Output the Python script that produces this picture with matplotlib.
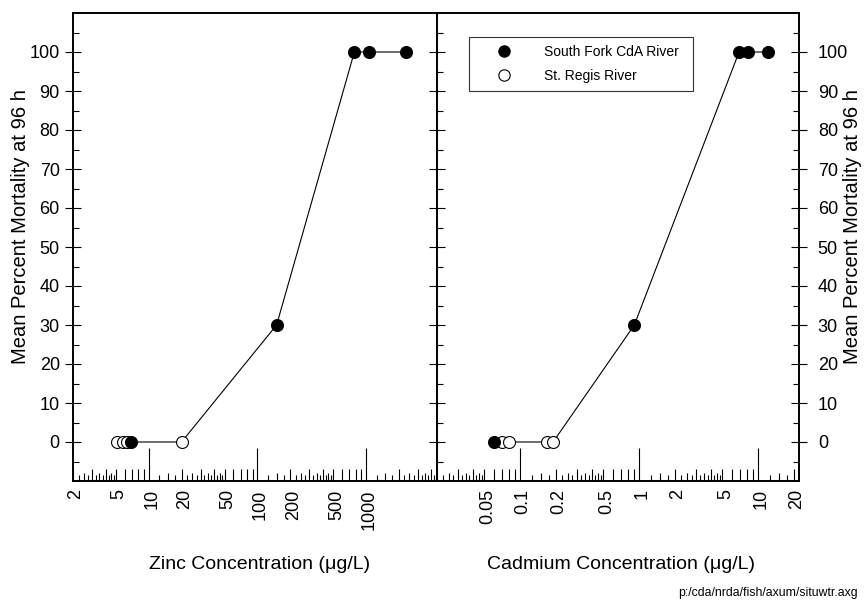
import matplotlib
matplotlib.use('Agg')
import matplotlib.pyplot as plt
from matplotlib.ticker import NullFormatter
from matplotlib.transforms import ScaledTranslation
import numpy as np

plt.rcParams['font.family'] = ['Liberation Sans', 'DejaVu Sans']

# zinc exposures (ug/L) and mortality
zn_sf = [6.8, 150, 780, 1070, 2350]
zn_sf_mort = [0, 30, 100, 100, 100]
zn_sr = [5.1, 5.8, 6.3, 20]
zn_sr_mort = [0, 0, 0, 0]

# cadmium exposures (ug/L) and mortality
cd_sf = [0.0605, 0.91, 6.9, 8.15, 12.0]
cd_sf_mort = [0, 30, 100, 100, 100]
cd_sr = [0.071, 0.081, 0.168, 0.189]
cd_sr_mort = [0, 0, 0, 0]

zn_ticks = [2, 5, 10, 20, 50, 100, 200, 500, 1000]
zn_ticklabels = ['2', '5', '10', '20', '50', '100', '200', '500', '1000']
cd_ticks = [0.05, 0.1, 0.2, 0.5, 1, 2, 5, 10, 20]
cd_ticklabels = ['0.05', '0.1', '0.2', '0.5', '1', '2', '5', '10', '20']

TICK_FS = 13
LABEL_FS = 14
YLABEL = 'Mean Percent Mortality at 96 h'


def log_ticks(lo_exp, hi_exp):
    # decade, integer, half and quarter steps (fine steps only up to 5x)
    decades = [10.0 ** e for e in range(lo_exp, hi_exp + 1)]
    mid, half, quarter = [], [], []
    for d in decades[:-1]:
        mid += [d * k for k in range(2, 10)]
        half += [d * (k + 0.5) for k in range(1, 5)]
        quarter += [d * (k + f) for k in range(1, 5) for f in (0.25, 0.75)]
    return decades, mid, half, quarter


def label_for(vals, ticks, labels):
    out = []
    for v in vals:
        lab = ''
        for t, l in zip(ticks, labels):
            if abs(v - t) / t < 1e-6:
                lab = l
        out.append(lab)
    return out


def panel(ax, sf_x, sf_y, sr_x, sr_y, xlim, ticks, labels, exps, xlabel):
    # mean mortality curve through all exposures
    xs = np.array(sf_x + sr_x)
    ys = np.array(sf_y + sr_y)
    order = np.argsort(xs)
    ax.plot(xs[order], ys[order], color='black', lw=0.8, zorder=1)
    ax.plot(sf_x, sf_y, 'o', ms=8.6, mfc='black', mec='black', mew=0.8,
            zorder=3, label='South Fork CdA River')
    ax.plot(sr_x, sr_y, 'o', ms=8.6, mfc='white', mec='black', mew=0.8,
            zorder=2, label='St. Regis River')
    ax.set_xscale('log')

    decades, mid, half, quarter = log_ticks(*exps)
    ax.set_xticks(decades, label_for(decades, ticks, labels))
    ax.set_xticks(mid, label_for(mid, ticks, labels), minor=True)
    ax.tick_params(axis='x', which='major', direction='in', length=23.5,
                   width=0.8, labelsize=TICK_FS, labelrotation=90, pad=6)
    ax.tick_params(axis='x', which='minor', direction='in', length=8.5,
                   width=0.8, labelsize=TICK_FS, labelrotation=90, pad=6)
    shift = ScaledTranslation(3 / 100, 0, ax.figure.dpi_scale_trans)
    for lab in ax.get_xticklabels(which='both'):
        lab.set_verticalalignment('top')
        lab.set_transform(lab.get_transform() + shift)

    sec = ax.secondary_xaxis('bottom')
    sec.set_xticks(half)
    sec.set_xticks(quarter, minor=True)
    sec.xaxis.set_major_formatter(NullFormatter())
    sec.xaxis.set_minor_formatter(NullFormatter())
    sec.tick_params(which='major', direction='in', length=6, width=0.8)
    sec.tick_params(which='minor', direction='in', length=4, width=0.8)
    sec.spines['bottom'].set_visible(False)

    ax.set_xlim(*xlim)
    ax.set_ylim(-10, 110)
    ax.set_yticks(range(0, 101, 10))
    ax.set_yticks(range(-5, 110, 10), minor=True)
    ax.tick_params(axis='y', which='major', direction='inout', length=12,
                   width=0.8, labelsize=TICK_FS)
    ax.tick_params(axis='y', which='minor', direction='in', length=4,
                   width=0.8)
    ax.set_xlabel(xlabel, fontsize=LABEL_FS)
    ax.xaxis.label.set_va('center')
    for s in ax.spines.values():
        s.set_linewidth(1.4)


fig = plt.figure(figsize=(8.64, 6.01), dpi=100)
ax1 = fig.add_axes([73 / 864, 120 / 601, 364 / 864, 468 / 601])
ax2 = fig.add_axes([437 / 864, 120 / 601, 362 / 864, 468 / 601])

panel(ax1, zn_sf, zn_sf_mort, zn_sr, zn_sr_mort, (2, 4500),
      zn_ticks, zn_ticklabels, (0, 4), 'Zinc Concentration (\u03bcg/L)')
panel(ax2, cd_sf, cd_sf_mort, cd_sr, cd_sr_mort, (0.02, 22),
      cd_ticks, cd_ticklabels, (-2, 2), 'Cadmium Concentration (\u03bcg/L)')
ax1.xaxis.set_label_coords(187 / 364, -0.178)
ax2.xaxis.set_label_coords(184 / 362, -0.178)

ax1.set_ylabel(YLABEL, fontsize=14.5)
ax1.yaxis.set_label_coords(-53 / 364, 254 / 468)
ax1.yaxis.label.set(ha='center', va='center')

ax2.yaxis.set_ticks_position('both')
ax2.tick_params(axis='y', which='both', labelleft=False, labelright=True)
ax2.tick_params(axis='y', which='major', pad=7.5)
ax2.set_ylabel(YLABEL, fontsize=14.5, rotation=90)
ax2.yaxis.set_label_position('right')
ax2.yaxis.set_label_coords(1 + 53 / 362, 254 / 468)
ax2.yaxis.label.set(ha='center', va='center')

leg = ax2.legend(loc='upper left',
                 bbox_to_anchor=(32 / 362, 1 - 24 / 468, 224 / 362, 0),
                 mode='expand', fontsize=10, frameon=True, fancybox=False,
                 edgecolor='black', borderpad=0.6, handletextpad=1.0,
                 borderaxespad=0, handlelength=3.8, labelspacing=0.7,
                 markerscale=0.95)
leg.get_frame().set_linewidth(0.8)
for h in leg.get_lines():
    h.set_linestyle('none')

fig.text(0.993, 0.004, 'p:/cda/nrda/fish/axum/situwtr.axg', fontsize=8.8,
         ha='right', va='bottom')

fig.savefig('out.png', dpi=100)
